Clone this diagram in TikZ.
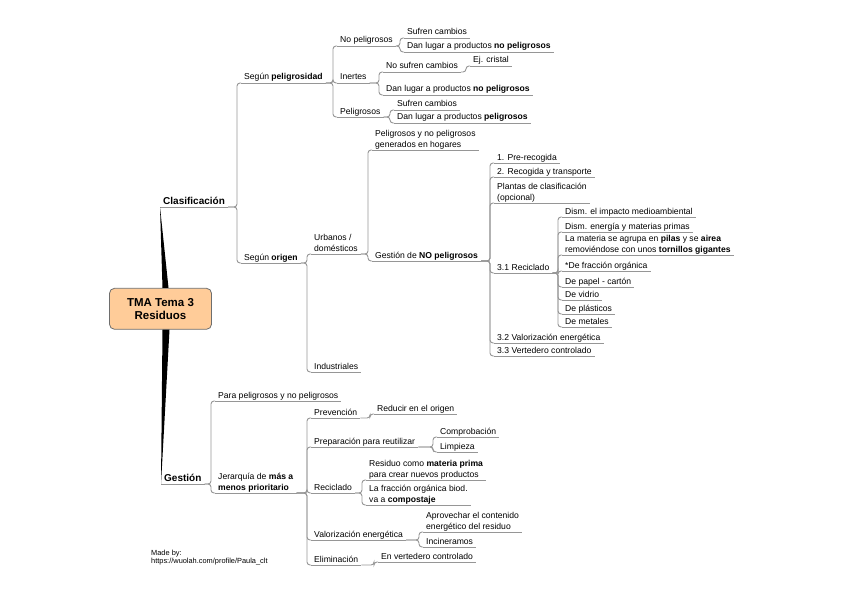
\documentclass[tikz,border=0pt]{standalone}
\usepackage{fontspec}
\setmainfont{Liberation Sans}
\usepackage{tikz}
\usetikzlibrary{calc,positioning}
\definecolor{linegray}{RGB}{150,150,150}
\definecolor{rootfill}{RGB}{255,204,153}
\definecolor{rootline}{RGB}{110,110,110}
\newcommand{\mmfont}{\fontsize{8.6}{10.5}\selectfont}
\tikzstyle{topic}=[anchor=south west, inner xsep=3pt, inner ysep=1pt, text depth=1.8pt, align=left, font=\mmfont,
  append after command={(\tikzlastnode.south west) edge[draw=linegray, line width=0.9pt] (\tikzlastnode.south east)}]
\tikzstyle{link}=[draw=linegray, line width=0.9pt, rounded corners=3pt,
  to path={-- ([xshift=-4pt]\tikztotarget |- \tikztostart) |- (\tikztotarget)}]

\begin{document}
\begin{tikzpicture}[x=1pt,y=-1pt,
main/.style={topic, font=\fontsize{10}{12}\selectfont\bfseries},
root/.style={draw=rootline, fill=rootfill, line width=0.8pt, rounded corners=5pt, minimum width=102pt,
minimum height=41pt, align=center, font=\fontsize{11.5}{13.5}\selectfont\bfseries}]
\useasboundingbox (0,0) rectangle (848,599);

\node (root) at (160.5,308.8)[root] {TMA Tema 3\\Residuos};
\node (clasif) at (160,207)[main] {Clasificaci\'on};
\node (gestion) at (161,484)[main] {Gesti\'on};
\fill ([xshift=2pt]root.north) -- (clasif.south west) -- ([xshift=8pt]root.north) -- cycle;
\fill ([xshift=2pt]root.south) -- (gestion.south west) -- ([xshift=9pt]root.south) -- cycle;

\node (segpel) at (241,83)[topic] {Seg\'un \textbf{peligrosidad}};
\node (segori) at (241,263)[topic] {Seg\'un \textbf{origen}};
\draw[link] (clasif.south east) to (segpel.south west);
\draw[link] (clasif.south east) to (segori.south west);

\node (nopel) at (337,46)[topic] {No peligrosos};
\node (inertes) at (337,83)[topic] {Inertes};
\node (pel) at (337,117)[topic] {Peligrosos};
\draw[link] (segpel.south east) to (nopel.south west);
\draw[link] (segpel.south east) to (inertes.south west);
\draw[link] (segpel.south east) to (pel.south west);

\node (nopelA) at (404,38)[topic] {Sufren cambios};
\node (nopelB) at (404,52)[topic] {Dan lugar a productos \textbf{no peligrosos}};
\draw[link] (nopel.south east) to (nopelA.south west);
\draw[link] (nopel.south east) to (nopelB.south west);

\node (inerA) at (383,72)[topic] {No sufren cambios};
\node (inerB) at (383,95)[topic] {Dan lugar a productos \textbf{no peligrosos}};
\node (cristal) at (470,66)[topic] {Ej. cristal};
\draw[link] (inertes.south east) to (inerA.south west);
\draw[link] (inertes.south east) to (inerB.south west);
\draw[link] (inerA.south east) to (cristal.south west);

\node (pelA) at (394,110)[topic] {Sufren cambios};
\node (pelB) at (394,123)[topic] {Dan lugar a productos \textbf{peligrosos}};
\draw[link] (pel.south east) to (pelA.south west);
\draw[link] (pel.south east) to (pelB.south west);

\node (urbanos) at (311,254)[topic] {Urbanos /\\dom\'esticos};
\node (indus) at (311,372)[topic] {Industriales};
\draw[link] (segori.south east) to (urbanos.south west);
\draw[link] (segori.south east) to (indus.south west);

\node (hogares) at (372,150)[topic] {Peligrosos y no peligrosos\\generados en hogares};
\node (gesnp) at (372,261)[topic] {Gesti\'on de \textbf{NO peligrosos}};
\draw[link] (urbanos.south east) to (hogares.south west);
\draw[link] (urbanos.south east) to (gesnp.south west);

\node (prerec) at (494,163)[topic] {1. Pre-recogida};
\node (recog) at (494,177)[topic] {2. Recogida y transporte};
\node (plantas) at (494,203)[topic] {Plantas de clasificaci\'on\\(opcional)};
\node (recic) at (494,273)[topic] {3.1 Reciclado};
\node (valor) at (494,343)[topic] {3.2 Valorizaci\'on energ\'etica};
\node (verted) at (494,356)[topic] {3.3 Vertedero controlado};
\foreach \n in {prerec,recog,plantas,recic,valor,verted}
  \draw[link] (gesnp.south east) to (\n.south west);

\node (dismA) at (562,217)[topic] {Dism. el impacto medioambiental};
\node (dismB) at (562,232)[topic] {Dism. energ\'ia y materias primas};
\node (pilas) at (562,255)[topic] {La materia se agrupa en \textbf{pilas} y se \textbf{airea}\\removi\'endose con unos \textbf{tornillos gigantes}};
\node (organ) at (562,271)[topic] {*De fracci\'on org\'anica};
\node (papel) at (562,287)[topic] {De papel - cart\'on};
\node (vidrio) at (562,300)[topic] {De vidrio};
\node (plast) at (562,314)[topic] {De pl\'asticos};
\node (metal) at (562,327)[topic] {De metales};
\foreach \n in {dismA,dismB,pilas,organ,papel,vidrio,plast,metal}
  \draw[link] (recic.south east) to (\n.south west);

\node (parapel) at (215,401)[topic] {Para peligrosos y no peligrosos};
\node (jerarq) at (215,493)[topic] {Jerarqu\'ia de \textbf{m\'as a}\\\textbf{menos prioritario}};
\draw[link] (gestion.south east) to (parapel.south west);
\draw[link] (gestion.south east) to (jerarq.south west);

\node (prev) at (311,418)[topic] {Prevenci\'on};
\node (prep) at (311,447)[topic] {Preparaci\'on para reutilizar};
\node (reci) at (311,493)[topic] {Reciclado};
\node (valen) at (311,540)[topic] {Valorizaci\'on energ\'etica};
\node (elim) at (311,565)[topic] {Eliminaci\'on};
\foreach \n in {prev,prep,reci,valen,elim}
  \draw[link] (jerarq.south east) to (\n.south west);

\node (reducir) at (374,414)[topic] {Reducir en el origen};
\draw[link] (prev.south east) to (reducir.south west);
\node (compr) at (437,437)[topic] {Comprobaci\'on};
\node (limp) at (437,452)[topic] {Limpieza};
\draw[link] (prep.south east) to (compr.south west);
\draw[link] (prep.south east) to (limp.south west);
\node (materia) at (366,480)[topic] {Residuo como \textbf{materia prima}\\para crear nuevos productos};
\node (fracc) at (366,505)[topic] {La fracci\'on org\'anica biod.\\va a \textbf{compostaje}};
\draw[link] (reci.south east) to (materia.south west);
\draw[link] (reci.south east) to (fracc.south west);
\node (aprov) at (423,532)[topic] {Aprovechar el contenido\\energ\'etico del residuo};
\node (incin) at (423,547)[topic] {Incineramos};
\draw[link] (valen.south east) to (aprov.south west);
\draw[link] (valen.south east) to (incin.south west);
\node (vertc) at (378,562)[topic] {En vertedero controlado};
\draw[link] (elim.south east) to (vertc.south west);

\node (madeby) at (151,557.5)[anchor=west, align=left, inner sep=0pt, font=\fontsize{7.4}{8.5}\selectfont] {Made by:\\https://wuolah.com/profile/Paula\_clt};
\end{tikzpicture}
\end{document}
